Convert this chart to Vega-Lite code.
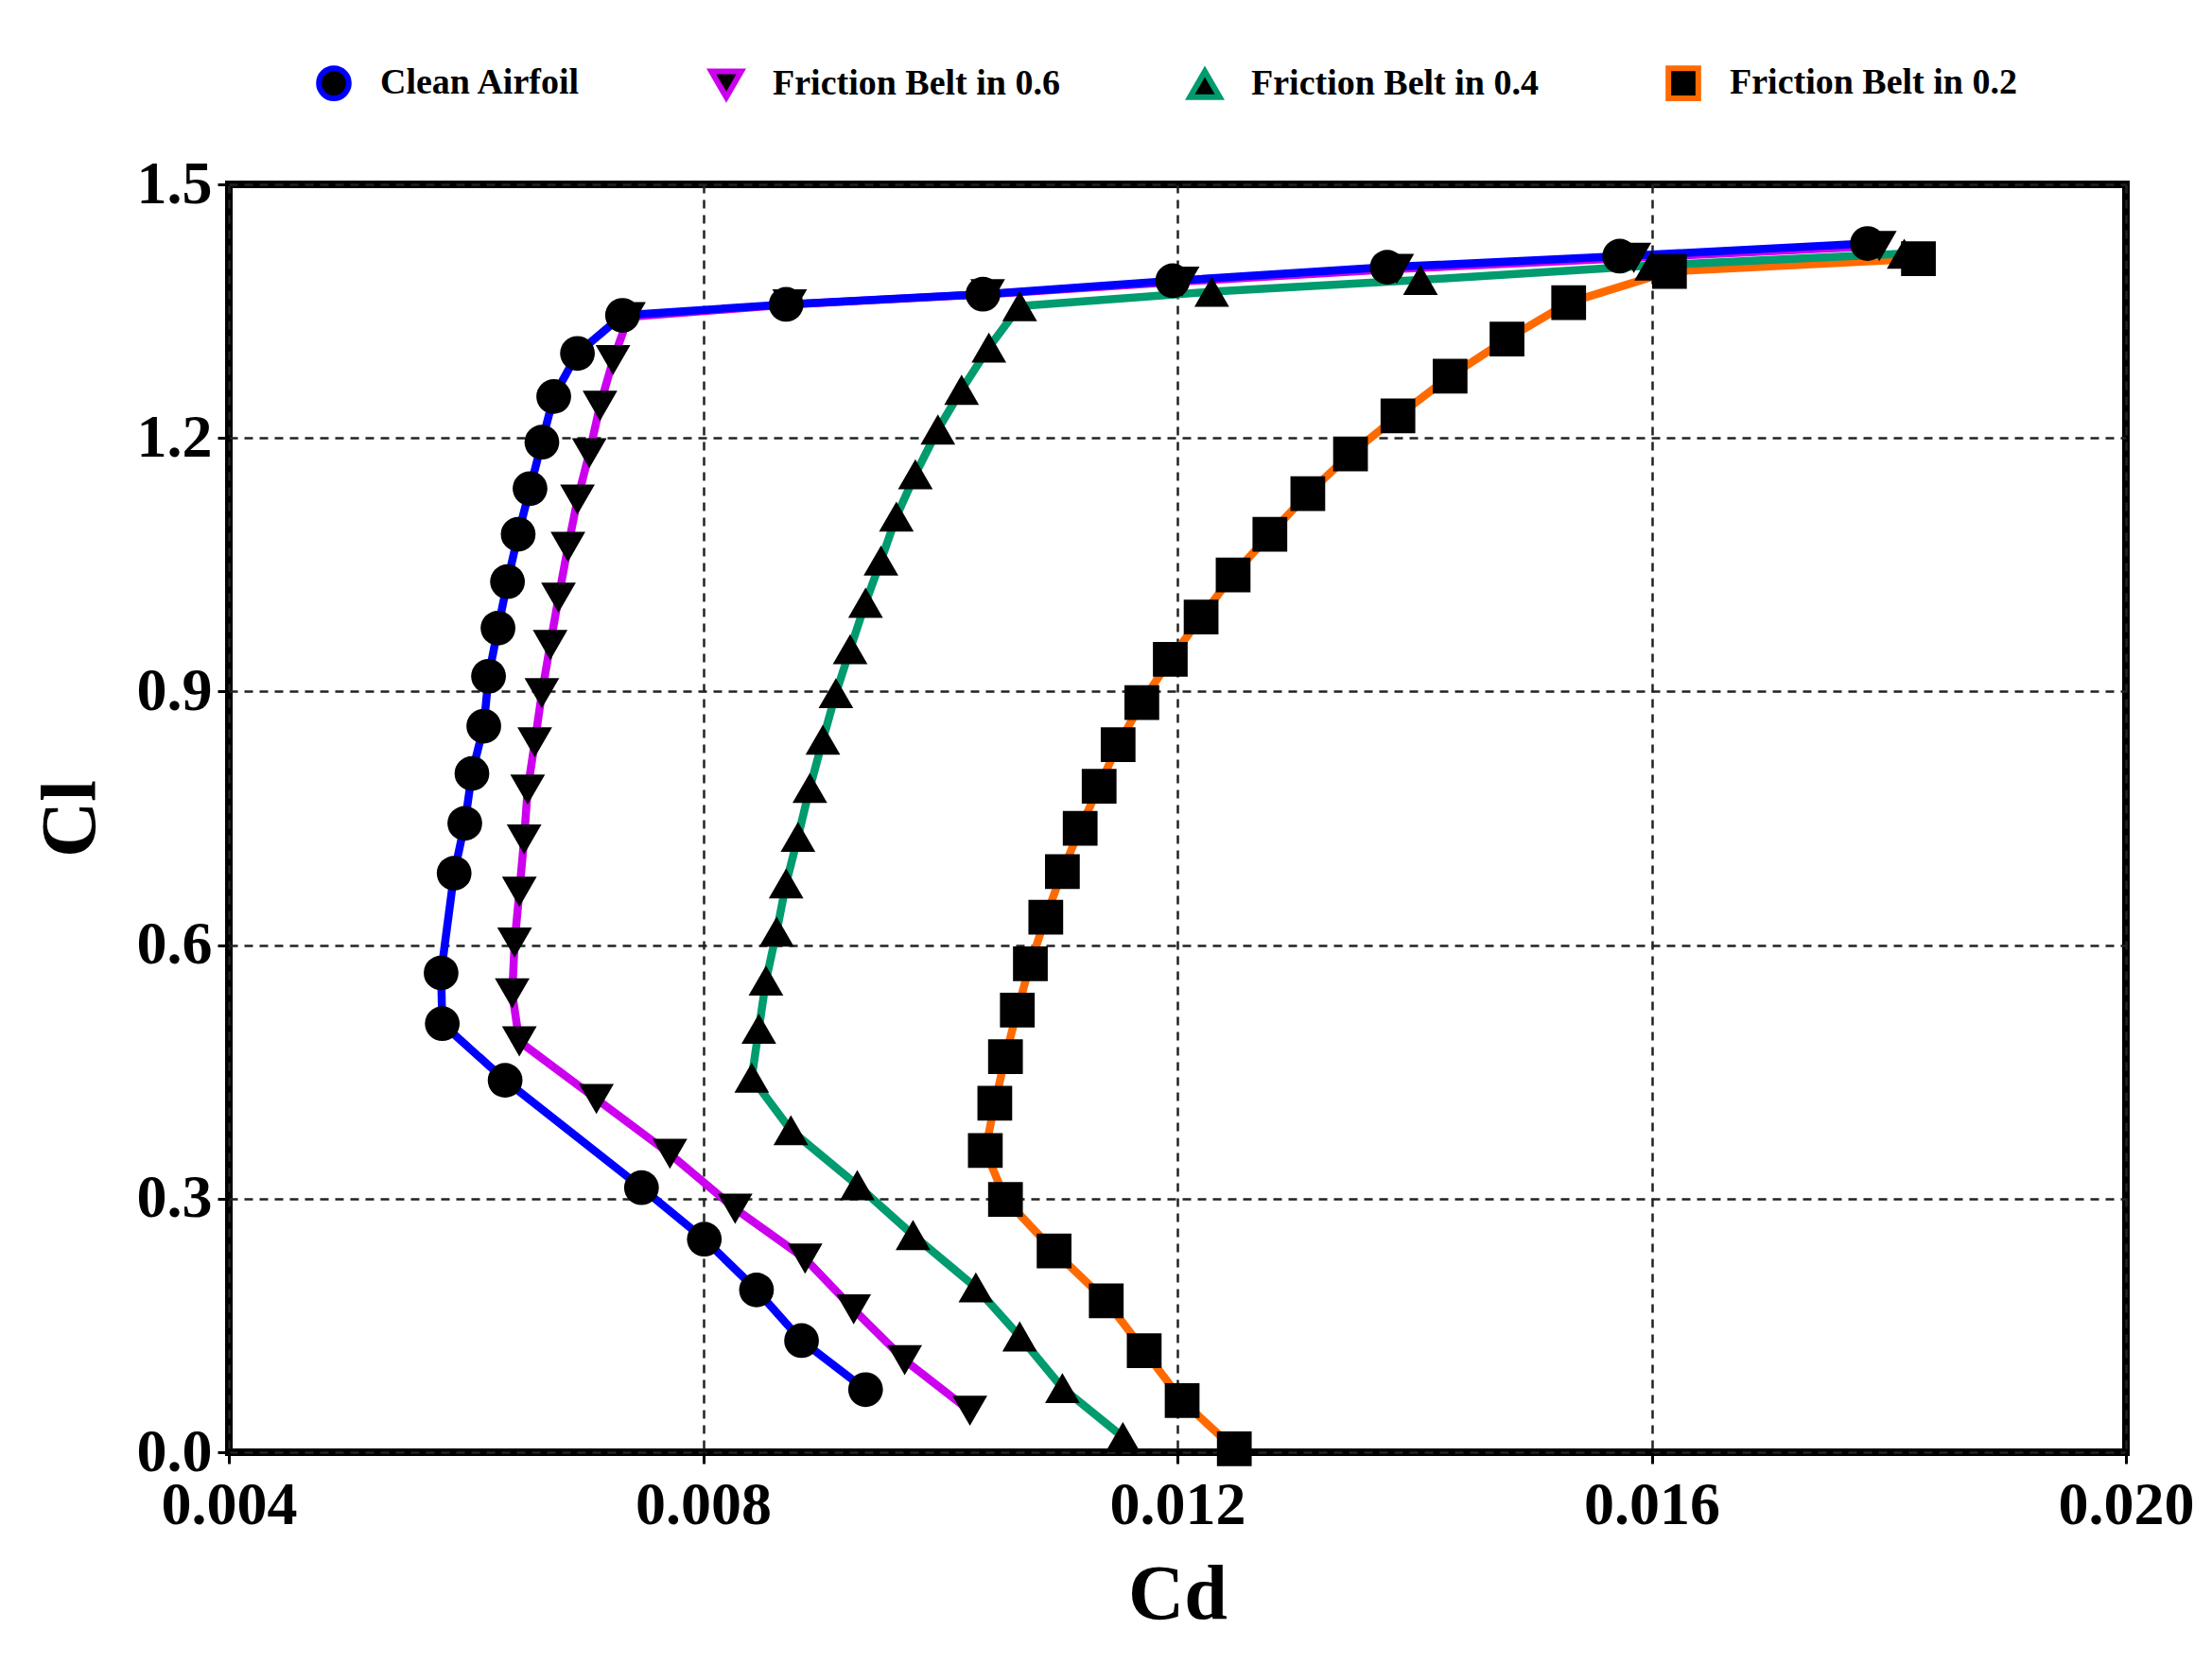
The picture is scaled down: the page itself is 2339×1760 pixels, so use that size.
{
  "$schema": "https://vega.github.io/schema/vega-lite/v6.json",
  "width": 2006,
  "height": 1341,
  "autosize": "none",
  "padding": {"left": 242, "top": 195, "right": 91, "bottom": 224},
  "background": "white",
  "config": {
    "font": "Liberation Serif",
    "view": {"stroke": "black", "strokeWidth": 8},
    "axis": {
      "labelFont": "Liberation Serif", "labelFontWeight": "bold", "labelColor": "black",
      "titleFont": "Liberation Serif", "titleFontWeight": "bold", "titleColor": "black",
      "labelFontSize": 64, "titleFontSize": 82,
      "domain": false, "tickColor": "black", "tickWidth": 3, "tickSize": 12,
      "grid": true, "gridColor": "#222222", "gridWidth": 2.5, "gridDash": [9, 7], "gridOpacity": 1,
      "labelFlush": false, "labelOverlap": false
    }
  },
  "data": {"values": [
    {"s":"Friction Belt in 0.2","i":1,"cd":0.01248,"cl":0.004},
    {"s":"Friction Belt in 0.2","i":2,"cd":0.01204,"cl":0.061},
    {"s":"Friction Belt in 0.2","i":3,"cd":0.01172,"cl":0.120},
    {"s":"Friction Belt in 0.2","i":4,"cd":0.01140,"cl":0.179},
    {"s":"Friction Belt in 0.2","i":5,"cd":0.01096,"cl":0.238},
    {"s":"Friction Belt in 0.2","i":6,"cd":0.01055,"cl":0.299},
    {"s":"Friction Belt in 0.2","i":7,"cd":0.01038,"cl":0.357},
    {"s":"Friction Belt in 0.2","i":8,"cd":0.01046,"cl":0.413},
    {"s":"Friction Belt in 0.2","i":9,"cd":0.01055,"cl":0.468},
    {"s":"Friction Belt in 0.2","i":10,"cd":0.01065,"cl":0.523},
    {"s":"Friction Belt in 0.2","i":11,"cd":0.01076,"cl":0.578},
    {"s":"Friction Belt in 0.2","i":12,"cd":0.01089,"cl":0.633},
    {"s":"Friction Belt in 0.2","i":13,"cd":0.01103,"cl":0.687},
    {"s":"Friction Belt in 0.2","i":14,"cd":0.01118,"cl":0.738},
    {"s":"Friction Belt in 0.2","i":15,"cd":0.01134,"cl":0.788},
    {"s":"Friction Belt in 0.2","i":16,"cd":0.01150,"cl":0.837},
    {"s":"Friction Belt in 0.2","i":17,"cd":0.01170,"cl":0.887},
    {"s":"Friction Belt in 0.2","i":18,"cd":0.01194,"cl":0.938},
    {"s":"Friction Belt in 0.2","i":19,"cd":0.01220,"cl":0.988},
    {"s":"Friction Belt in 0.2","i":20,"cd":0.01247,"cl":1.038},
    {"s":"Friction Belt in 0.2","i":21,"cd":0.01278,"cl":1.086},
    {"s":"Friction Belt in 0.2","i":22,"cd":0.01310,"cl":1.134},
    {"s":"Friction Belt in 0.2","i":23,"cd":0.01346,"cl":1.181},
    {"s":"Friction Belt in 0.2","i":24,"cd":0.01386,"cl":1.226},
    {"s":"Friction Belt in 0.2","i":25,"cd":0.01430,"cl":1.273},
    {"s":"Friction Belt in 0.2","i":26,"cd":0.01478,"cl":1.317},
    {"s":"Friction Belt in 0.2","i":27,"cd":0.01530,"cl":1.360},
    {"s":"Friction Belt in 0.2","i":28,"cd":0.01615,"cl":1.397},
    {"s":"Friction Belt in 0.2","i":29,"cd":0.01825,"cl":1.412},

    {"s":"Friction Belt in 0.4","i":1,"cd":0.01154,"cl":0.018},
    {"s":"Friction Belt in 0.4","i":2,"cd":0.01103,"cl":0.076},
    {"s":"Friction Belt in 0.4","i":3,"cd":0.01067,"cl":0.137},
    {"s":"Friction Belt in 0.4","i":4,"cd":0.01030,"cl":0.195},
    {"s":"Friction Belt in 0.4","i":5,"cd":0.00977,"cl":0.257},
    {"s":"Friction Belt in 0.4","i":6,"cd":0.00930,"cl":0.316},
    {"s":"Friction Belt in 0.4","i":7,"cd":0.00874,"cl":0.381},
    {"s":"Friction Belt in 0.4","i":8,"cd":0.00841,"cl":0.443},
    {"s":"Friction Belt in 0.4","i":9,"cd":0.00847,"cl":0.501},
    {"s":"Friction Belt in 0.4","i":10,"cd":0.00853,"cl":0.558},
    {"s":"Friction Belt in 0.4","i":11,"cd":0.00862,"cl":0.616},
    {"s":"Friction Belt in 0.4","i":12,"cd":0.00870,"cl":0.673},
    {"s":"Friction Belt in 0.4","i":13,"cd":0.00880,"cl":0.728},
    {"s":"Friction Belt in 0.4","i":14,"cd":0.00890,"cl":0.786},
    {"s":"Friction Belt in 0.4","i":15,"cd":0.00901,"cl":0.843},
    {"s":"Friction Belt in 0.4","i":16,"cd":0.00912,"cl":0.898},
    {"s":"Friction Belt in 0.4","i":17,"cd":0.00924,"cl":0.950},
    {"s":"Friction Belt in 0.4","i":18,"cd":0.00937,"cl":1.005},
    {"s":"Friction Belt in 0.4","i":19,"cd":0.00950,"cl":1.055},
    {"s":"Friction Belt in 0.4","i":20,"cd":0.00963,"cl":1.107},
    {"s":"Friction Belt in 0.4","i":21,"cd":0.00979,"cl":1.157},
    {"s":"Friction Belt in 0.4","i":22,"cd":0.00998,"cl":1.210},
    {"s":"Friction Belt in 0.4","i":23,"cd":0.01018,"cl":1.257},
    {"s":"Friction Belt in 0.4","i":24,"cd":0.01041,"cl":1.307},
    {"s":"Friction Belt in 0.4","i":25,"cd":0.01067,"cl":1.356},
    {"s":"Friction Belt in 0.4","i":26,"cd":0.01229,"cl":1.373},
    {"s":"Friction Belt in 0.4","i":27,"cd":0.01405,"cl":1.387},
    {"s":"Friction Belt in 0.4","i":28,"cd":0.01600,"cl":1.404},
    {"s":"Friction Belt in 0.4","i":29,"cd":0.01813,"cl":1.418},

    {"s":"Friction Belt in 0.6","i":1,"cd":0.01025,"cl":0.049},
    {"s":"Friction Belt in 0.6","i":2,"cd":0.00970,"cl":0.109},
    {"s":"Friction Belt in 0.6","i":3,"cd":0.00927,"cl":0.169},
    {"s":"Friction Belt in 0.6","i":4,"cd":0.00886,"cl":0.229},
    {"s":"Friction Belt in 0.6","i":5,"cd":0.00827,"cl":0.288},
    {"s":"Friction Belt in 0.6","i":6,"cd":0.00772,"cl":0.353},
    {"s":"Friction Belt in 0.6","i":7,"cd":0.00710,"cl":0.418},
    {"s":"Friction Belt in 0.6","i":8,"cd":0.00645,"cl":0.486},
    {"s":"Friction Belt in 0.6","i":9,"cd":0.00639,"cl":0.543},
    {"s":"Friction Belt in 0.6","i":10,"cd":0.00641,"cl":0.603},
    {"s":"Friction Belt in 0.6","i":11,"cd":0.00645,"cl":0.663},
    {"s":"Friction Belt in 0.6","i":12,"cd":0.00649,"cl":0.725},
    {"s":"Friction Belt in 0.6","i":13,"cd":0.00652,"cl":0.784},
    {"s":"Friction Belt in 0.6","i":14,"cd":0.00658,"cl":0.840},
    {"s":"Friction Belt in 0.6","i":15,"cd":0.00664,"cl":0.898},
    {"s":"Friction Belt in 0.6","i":16,"cd":0.00671,"cl":0.955},
    {"s":"Friction Belt in 0.6","i":17,"cd":0.00678,"cl":1.011},
    {"s":"Friction Belt in 0.6","i":18,"cd":0.00686,"cl":1.071},
    {"s":"Friction Belt in 0.6","i":19,"cd":0.00694,"cl":1.127},
    {"s":"Friction Belt in 0.6","i":20,"cd":0.00704,"cl":1.182},
    {"s":"Friction Belt in 0.6","i":21,"cd":0.00713,"cl":1.238},
    {"s":"Friction Belt in 0.6","i":22,"cd":0.00724,"cl":1.292},
    {"s":"Friction Belt in 0.6","i":23,"cd":0.00737,"cl":1.343},
    {"s":"Friction Belt in 0.6","i":24,"cd":0.00873,"cl":1.358},
    {"s":"Friction Belt in 0.6","i":25,"cd":0.01040,"cl":1.370},
    {"s":"Friction Belt in 0.6","i":26,"cd":0.01204,"cl":1.385},
    {"s":"Friction Belt in 0.6","i":27,"cd":0.01385,"cl":1.400},
    {"s":"Friction Belt in 0.6","i":28,"cd":0.01585,"cl":1.413},
    {"s":"Friction Belt in 0.6","i":29,"cd":0.01792,"cl":1.427},

    {"s":"Clean Airfoil","i":1,"cd":0.00937,"cl":0.074},
    {"s":"Clean Airfoil","i":2,"cd":0.00883,"cl":0.132},
    {"s":"Clean Airfoil","i":3,"cd":0.00845,"cl":0.192},
    {"s":"Clean Airfoil","i":4,"cd":0.00801,"cl":0.252},
    {"s":"Clean Airfoil","i":5,"cd":0.00748,"cl":0.313},
    {"s":"Clean Airfoil","i":6,"cd":0.00633,"cl":0.440},
    {"s":"Clean Airfoil","i":7,"cd":0.00580,"cl":0.507},
    {"s":"Clean Airfoil","i":8,"cd":0.00579,"cl":0.567},
    {"s":"Clean Airfoil","i":9,"cd":0.00590,"cl":0.685},
    {"s":"Clean Airfoil","i":10,"cd":0.00599,"cl":0.744},
    {"s":"Clean Airfoil","i":11,"cd":0.00605,"cl":0.803},
    {"s":"Clean Airfoil","i":12,"cd":0.00615,"cl":0.859},
    {"s":"Clean Airfoil","i":13,"cd":0.00619,"cl":0.918},
    {"s":"Clean Airfoil","i":14,"cd":0.00627,"cl":0.975},
    {"s":"Clean Airfoil","i":15,"cd":0.00635,"cl":1.030},
    {"s":"Clean Airfoil","i":16,"cd":0.00644,"cl":1.086},
    {"s":"Clean Airfoil","i":17,"cd":0.00654,"cl":1.140},
    {"s":"Clean Airfoil","i":18,"cd":0.00664,"cl":1.195},
    {"s":"Clean Airfoil","i":19,"cd":0.00674,"cl":1.249},
    {"s":"Clean Airfoil","i":20,"cd":0.00694,"cl":1.300},
    {"s":"Clean Airfoil","i":21,"cd":0.00732,"cl":1.345},
    {"s":"Clean Airfoil","i":22,"cd":0.00870,"cl":1.358},
    {"s":"Clean Airfoil","i":23,"cd":0.01036,"cl":1.370},
    {"s":"Clean Airfoil","i":24,"cd":0.01196,"cl":1.386},
    {"s":"Clean Airfoil","i":25,"cd":0.01377,"cl":1.402},
    {"s":"Clean Airfoil","i":26,"cd":0.01573,"cl":1.415},
    {"s":"Clean Airfoil","i":27,"cd":0.01782,"cl":1.430}
  ]},
  "encoding": {
    "x": {"field": "cd", "type": "quantitative",
      "scale": {"domain": [0.004, 0.020], "nice": false, "zero": false},
      "axis": {"values": [0.004, 0.008, 0.012, 0.016, 0.020], "format": ".3f", "title": "Cd", "labelPadding": 12, "titlePadding": 22}},
    "y": {"field": "cl", "type": "quantitative",
      "scale": {"domain": [0, 1.5], "nice": false, "zero": false},
      "axis": {"values": [0, 0.3, 0.6, 0.9, 1.2, 1.5], "format": ".1f", "title": "Cl", "labelPadding": 6, "titlePadding": 28}}
  },
  "layer": [
    {
      "mark": {"type": "line", "strokeWidth": 8.5, "strokeJoin": "round"},
      "encoding": {
        "color": {"field": "s", "type": "nominal",
          "scale": {"domain": ["Clean Airfoil", "Friction Belt in 0.6", "Friction Belt in 0.4", "Friction Belt in 0.2"],
                    "range": ["#0000FF", "#CC00EE", "#009B6E", "#FF6A00"]},
          "legend": {
            "title": null, "orient": "none", "legendX": 92, "legendY": -126,
            "direction": "horizontal", "columns": 4, "columnPadding": 125, "gridAlign": "each",
            "labelFont": "Liberation Serif", "labelFontWeight": "bold", "labelFontSize": 38, "labelColor": "black",
            "labelLimit": 0, "labelOffset": 30, "symbolSize": 1000, "symbolType": "circle",
            "encode": {
              "symbols": {"update": {
                "shape": {"signal": "datum.value === 'Clean Airfoil' ? 'M-1.6,0L-1,0M1,0L1.6,0M-1,0A1,1,0,1,0,1,0A1,1,0,1,0,-1,0Z' : datum.value === 'Friction Belt in 0.6' ? 'M-1.6,0L-0.52,0M0.52,0L1.6,0M-1,-0.85L1,-0.85L0,0.95Z' : datum.value === 'Friction Belt in 0.4' ? 'M-1.6,0L-0.52,0M0.52,0L1.6,0M-1,0.85L1,0.85L0,-0.95Z' : 'M-1.6,0L-0.9,0M0.9,0L1.6,0M-0.9,-0.9L0.9,-0.9L0.9,0.9L-0.9,0.9Z'"},
                "fill": {"value": "black"},
                "fillOpacity": {"value": 1},
                "stroke": {"scale": "color", "field": "value"},
                "strokeWidth": {"value": 6},
                "opacity": {"value": 1},
                "size": {"value": 1000}
              }}
            }
          }
        },
        "order": {"field": "i", "type": "quantitative"}
      }
    },
    {
      "mark": {"type": "point", "filled": true, "size": 1350, "opacity": 1, "color": "black"},
      "encoding": {
        "shape": {"field": "s", "type": "nominal",
          "scale": {"domain": ["Clean Airfoil", "Friction Belt in 0.6", "Friction Belt in 0.4", "Friction Belt in 0.2"],
                    "range": ["circle", "triangle-down", "triangle-up", "square"]},
          "legend": null
        }
      }
    }
  ]
}
